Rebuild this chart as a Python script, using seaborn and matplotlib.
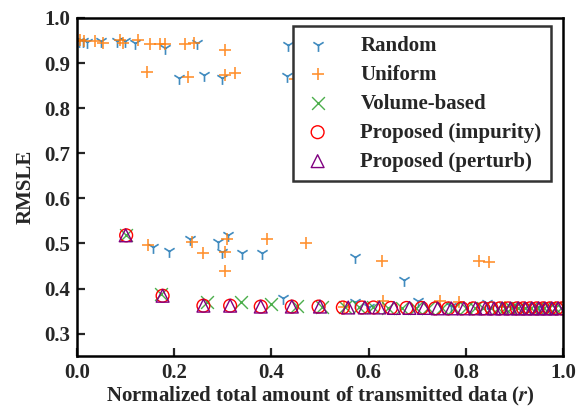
import matplotlib
matplotlib.use("Agg")
import matplotlib.pyplot as plt
import seaborn as sns

# data
random_x = [0.004, 0.012, 0.020, 0.050, 0.082, 0.099, 0.119, 0.181, 0.246, 0.210, 0.261, 0.298,
            0.434, 0.431, 0.157, 0.190, 0.233, 0.291, 0.311, 0.298, 0.339, 0.380, 0.423, 0.572,
            0.572, 0.673, 0.702, 0.843, 0.600, 0.770, 0.900, 0.950]
random_y = [0.948, 0.949, 0.947, 0.948, 0.949, 0.948, 0.945, 0.933, 0.944, 0.866, 0.873, 0.866,
            0.940, 0.871, 0.493, 0.484, 0.510, 0.503, 0.518, 0.481, 0.478, 0.478, 0.379, 0.471,
            0.370, 0.419, 0.373, 0.367, 0.360, 0.362, 0.358, 0.358]

uniform_x = [0.006, 0.015, 0.037, 0.054, 0.088, 0.095, 0.126, 0.150, 0.171, 0.181, 0.222, 0.241,
             0.305, 0.143, 0.229, 0.305, 0.325, 0.449, 0.145, 0.236, 0.260, 0.308, 0.305, 0.305,
             0.390, 0.471, 0.627, 0.828, 0.848, 0.630, 0.747, 0.785, 0.550, 0.880]
uniform_y = [0.951, 0.950, 0.949, 0.944, 0.951, 0.944, 0.951, 0.942, 0.942, 0.942, 0.942, 0.945,
             0.930, 0.881, 0.868, 0.873, 0.877, 0.864, 0.496, 0.503, 0.478, 0.510, 0.481, 0.438,
             0.510, 0.501, 0.462, 0.462, 0.458, 0.373, 0.373, 0.370, 0.360, 0.360]

volume_x = [0.101, 0.172, 0.267, 0.337, 0.400, 0.452, 0.505, 0.552, 0.580, 0.610, 0.640, 0.668,
            0.697, 0.722, 0.750, 0.776, 0.800, 0.818, 0.836, 0.852, 0.866, 0.880, 0.894, 0.908,
            0.921, 0.934, 0.947, 0.960, 0.972, 0.984, 0.996]
volume_y = [0.518, 0.388, 0.370, 0.370, 0.366, 0.362, 0.360, 0.359, 0.358, 0.358, 0.357, 0.357,
            0.357, 0.357, 0.356, 0.356, 0.356, 0.356, 0.356, 0.356, 0.356, 0.356, 0.356, 0.356,
            0.356, 0.356, 0.356, 0.356, 0.356, 0.356, 0.356]

impurity_x = [0.101, 0.176, 0.260, 0.315, 0.378, 0.442, 0.497, 0.547, 0.586, 0.610, 0.646, 0.678,
              0.709, 0.737, 0.764, 0.792, 0.815, 0.836, 0.853, 0.870, 0.887, 0.905, 0.918, 0.932,
              0.946, 0.959, 0.973, 0.987, 0.998]
impurity_y = [0.518, 0.384, 0.362, 0.362, 0.360, 0.360, 0.360, 0.358, 0.358, 0.358, 0.357, 0.357,
              0.357, 0.356, 0.356, 0.356, 0.356, 0.356, 0.356, 0.356, 0.356, 0.356, 0.356, 0.356,
              0.356, 0.356, 0.356, 0.356, 0.356]

perturb_x = [0.100, 0.176, 0.260, 0.315, 0.378, 0.442, 0.500, 0.558, 0.592, 0.622, 0.652, 0.684,
             0.714, 0.742, 0.770, 0.796, 0.820, 0.840, 0.858, 0.875, 0.892, 0.908, 0.922, 0.936,
             0.950, 0.963, 0.977, 0.990]
perturb_y = [0.518, 0.384, 0.362, 0.362, 0.360, 0.360, 0.360, 0.358, 0.358, 0.358, 0.357, 0.357,
             0.357, 0.356, 0.356, 0.356, 0.356, 0.356, 0.356, 0.356, 0.356, 0.356, 0.356, 0.356,
             0.356, 0.356, 0.356, 0.356]

sns.set_style("ticks")
plt.rcParams["font.family"] = ["Liberation Serif", "DejaVu Serif"]
plt.rcParams["font.weight"] = "bold"
plt.rcParams["axes.labelweight"] = "bold"
plt.rcParams["mathtext.fontset"] = "stix"

fig, ax = plt.subplots(figsize=(5.84, 4.08), dpi=100)
fig.subplots_adjust(left=0.132, right=0.964, top=0.956, bottom=0.127)

sz = 85
sns.scatterplot(x=random_x, y=random_y, marker="1", s=sz, color="#1f77b4", linewidth=1.2,
                alpha=0.85, label="Random", ax=ax)
sns.scatterplot(x=uniform_x, y=uniform_y, marker="+", s=sz, color="#ff7f0e", linewidth=1.2,
                alpha=0.85, label="Uniform", ax=ax)
sns.scatterplot(x=volume_x, y=volume_y, marker="x", s=sz, color="#2ca02c", linewidth=1.0,
                alpha=0.85, label="Volume-based", ax=ax)
sns.scatterplot(x=impurity_x, y=impurity_y, marker="o", s=sz, facecolor="none", edgecolor="red",
                linewidth=1.0, label="Proposed (impurity)", ax=ax)
sns.scatterplot(x=perturb_x, y=perturb_y, marker="^", s=sz, facecolor="none", edgecolor="purple",
                linewidth=1.0, label="Proposed (perturb)", ax=ax)

ax.set_xlim(0, 1.0)
ax.set_ylim(0.25, 1.0)
ax.set_xticks([0.0, 0.2, 0.4, 0.6, 0.8, 1.0])
ax.set_yticks([0.3, 0.4, 0.5, 0.6, 0.7, 0.8, 0.9, 1.0])
ax.tick_params(direction="in", length=6, width=1.6, labelsize=15, pad=5)
for lab in ax.get_xticklabels() + ax.get_yticklabels():
    lab.set_fontweight("bold")
for sp in ax.spines.values():
    sp.set_visible(True)
    sp.set_linewidth(1.8)
    sp.set_color("black")

ax.set_xlabel("Normalized total amount of transmitted data ($r$)", fontsize=15, fontweight="bold",
              labelpad=1)
ax.set_ylabel("RMSLE", fontsize=15, fontweight="bold", labelpad=6)

leg = ax.legend(loc="upper right", bbox_to_anchor=(0.975, 0.975), borderaxespad=0, frameon=True,
                fancybox=False, edgecolor="#333333", framealpha=1, labelspacing=0.43,
                handlelength=1.5, handletextpad=1.3, borderpad=0.45,
                prop={"weight": "bold", "size": 15})
leg.get_frame().set_linewidth(1.8)

fig.savefig("out.png", dpi=100)
